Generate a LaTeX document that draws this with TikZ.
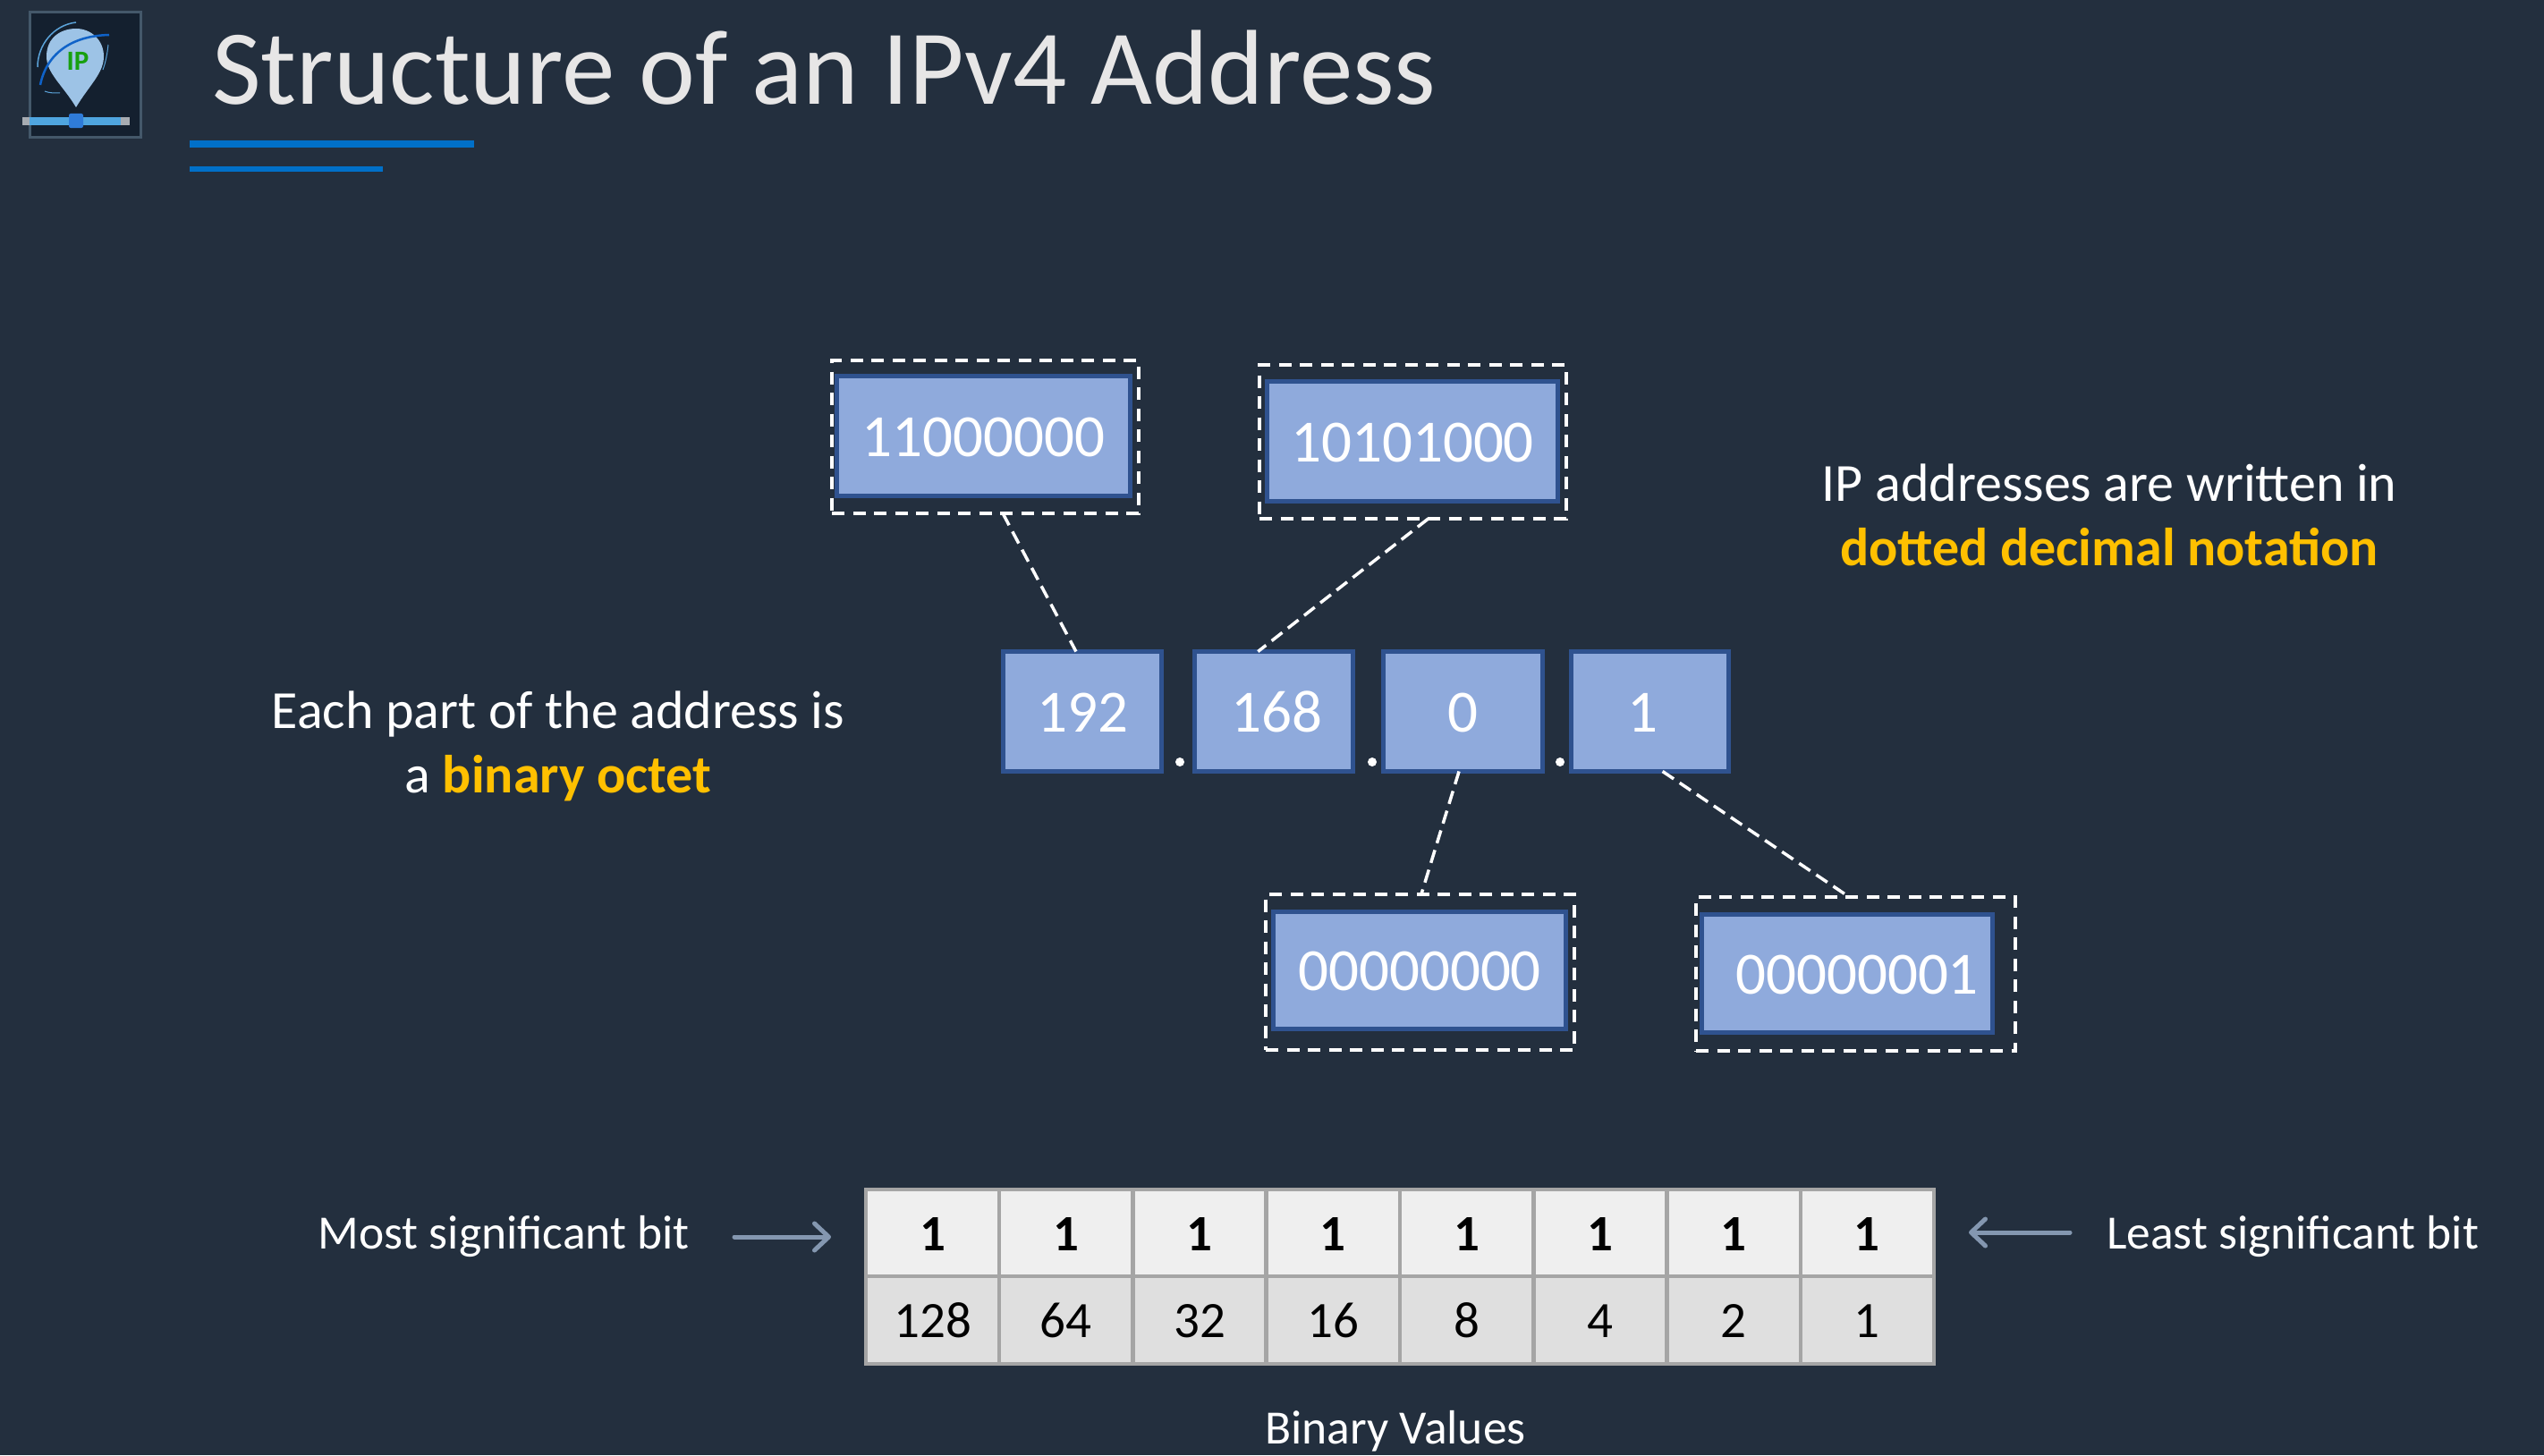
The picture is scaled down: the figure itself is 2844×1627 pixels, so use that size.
\documentclass[tikz,border=0pt]{standalone}
\usepackage{fontspec}
\setmainfont{Carlito}
\usetikzlibrary{calc,arrows.meta}
\definecolor{bg}{HTML}{232F3E}
\definecolor{boxfill}{HTML}{8FAADC}
\definecolor{boxline}{HTML}{2F528F}
\definecolor{accent}{HTML}{FFC000}
\definecolor{titlecol}{HTML}{E7E6E6}
\definecolor{rule}{HTML}{0070C8}
\definecolor{grid}{HTML}{A5A5A5}
\definecolor{rowa}{HTML}{EFEFEF}
\definecolor{rowb}{HTML}{DFDFDF}
\definecolor{arrowcol}{HTML}{8497B0}
\definecolor{logobg}{HTML}{14202F}
\definecolor{logoedge}{HTML}{44586A}
\definecolor{pin}{HTML}{9DC3E6}
\definecolor{slider}{HTML}{4FA5DF}
\definecolor{knob}{HTML}{2F7BD8}
\definecolor{arcdark}{HTML}{0F62C8}
\definecolor{arclight}{HTML}{5BA3D9}
\definecolor{ipgreen}{HTML}{17A00F}
\newcommand\fsz[1]{\fontsize{#1}{#1}\selectfont}
\tikzset{
  numbox/.style={draw=boxline,fill=boxfill,line width=5pt,inner sep=0pt,outer sep=0pt,
    text=white,font=\fsz{67},text height=45pt,text depth=0pt,align=center},
  dashframe/.style={draw=white,line width=4.5pt,dash pattern=on 14pt off 9.5pt,inner sep=0pt,outer sep=0pt},
  dashlink/.style={draw=white,line width=3.5pt,dash pattern=on 15pt off 8pt},
  dotmark/.style={circle,fill=white,minimum size=10pt,inner sep=0pt},
  txt/.style={anchor=base,text=white,font=\fsz{60},inner sep=0pt},
  txtsmall/.style={txt,font=\fsz{53.5}},
  cella/.style={draw=grid,fill=rowa,line width=4.5pt,minimum width=149.25pt,minimum height=97pt,inner sep=0pt,outer sep=0pt,
    text=black,font=\fsz{57}\bfseries,text height=40pt,text depth=0pt},
  cellb/.style={draw=grid,fill=rowb,line width=4.5pt,minimum width=149.25pt,minimum height=98pt,inner sep=0pt,outer sep=0pt,
    text=black,font=\fsz{57},text height=39pt,text depth=0pt},
  sidearrow/.style={draw=arrowcol,line width=5pt,line cap=round,
    -{Straight Barb[length=16pt,width=30pt,line width=5pt,round]}},
}
\begin{document}
\begin{tikzpicture}[x=1pt,y=-1pt]
\useasboundingbox[fill=bg] (0,0) rectangle (2844,1627);

% logo
\fill[fill=rule] (212,157) rectangle (530,165);
\fill[fill=rule] (212,186) rectangle (428,192);
\draw[draw=logoedge,line width=3pt,fill=logobg] (33,14) rectangle (157,153);
\fill[fill=white!60!bg] (25,131) rectangle (145,140);
\fill[fill=slider] (33,131) rectangle (135,140);
\fill[fill=knob,rounded corners=2pt] (77,127) rectangle (93,143);
\fill[fill=pin] (85,120) .. controls (70,95) and (52,82) .. (52,63)
  .. controls (52,42) and (68,32) .. (85,32) .. controls (102,32) and (116,45) .. (116,63)
  .. controls (116,82) and (100,95) .. (85,120) -- cycle;
\draw[draw=arcdark,line width=2.5pt] (45,95) .. controls (52,60) and (80,40) .. (122,39);
\draw[draw=arclight,line width=1.5pt] (42,75) .. controls (42,50) and (60,28) .. (85,25);
\draw[draw=arclight,line width=1pt] (121,50) .. controls (120,60) and (118,70) .. (115,78);
\draw[draw=arclight,line width=1pt] (50,102) .. controls (55,104) and (60,104) .. (67,104);
\node[anchor=base,inner sep=0pt,text=ipgreen,font=\fsz{31}\bfseries] (iplogo) at (87,79) {IP};

% title
\node[anchor=base west,inner sep=0pt,text=titlecol,font=\fsz{119}] (title) at (237,117) {Structure of an IPv4 Address};

% dashed frames
\node[dashframe,minimum width=343pt,minimum height=171pt] (d1) at (1101.5,488.5) {};
\node[dashframe,minimum width=343pt,minimum height=172pt] (d2) at (1579.5,494) {};
\node[dashframe,minimum width=345pt,minimum height=174pt] (d3) at (1587.5,1087) {};
\node[dashframe,minimum width=357pt,minimum height=172pt] (d4) at (2074.5,1089) {};

% binary boxes
\node[numbox,minimum width=328pt,minimum height=134pt] (b1) at (1099.5,487.5) {11000000};
\node[numbox,minimum width=325pt,minimum height=134pt] (b2) at (1579,493.5) {10101000};
\node[numbox,minimum width=327pt,minimum height=131pt] (b3) at (1587,1085) {00000000};
\node[numbox,minimum width=325pt,minimum height=132pt] (b4) at (2065,1088.5) {\hspace*{22pt}00000001};

% decimal boxes
\node[numbox,minimum width=177pt,minimum height=134pt] (n192) at (1210,795.5) {192};
\node[numbox,minimum width=177pt,minimum height=134pt] (n168) at (1424,795.5) {\hspace*{6pt}168};
\node[numbox,minimum width=178pt,minimum height=134pt] (n0) at (1635.5,795.5) {0};
\node[numbox,minimum width=176pt,minimum height=134pt] (n1) at (1844,795.5) {\hspace*{-16pt}1};

\node[dotmark] (p1) at (1319,852) {};
\node[dotmark] (p2) at (1534,852) {};
\node[dotmark] (p3) at (1744,852) {};

% links
\draw[dashlink] ($(d1.south west)!0.557!(d1.south east)$) -- ($(n192.north west)!0.46!(n192.north east)$);
\draw[dashlink] ($(d2.south west)!0.55!(d2.south east)$) -- ($(n168.north west)!0.40!(n168.north east)$);
\draw[dashlink] ($(n0.south west)!0.475!(n0.south east)$) -- ($(d3.north west)!0.504!(d3.north east)$);
\draw[dashlink] ($(n1.south west)!0.583!(n1.south east)$) -- ($(d4.north west)!0.48!(d4.north east)$);

% side texts
\node[txt] (tl1) at (624,814) {Each part of the address is};
\node[txt] (tl2) at (624,886.5) {a \textcolor{accent}{\bfseries binary octet}};
\node[txt] (tr1) at (2358,560) {IP addresses are written in};
\node[txt] (tr2) at (2358,632.5) {\textcolor{accent}{\bfseries dotted decimal notation}};

% table
\foreach \i/\v [count=\c from 0] in {1/128,2/64,3/32,4/16,5/8,6/4,7/2,8/1} {
  \node[cella] (ta\i) at ({1042.6+149.25*\c},1378.5) {1};
  \node[cellb] (tb\i) at ({1042.6+149.25*\c},1476) {\v};
}
\node[txtsmall,anchor=base east] (msb) at (771,1396.5) {Most significant bit};
\node[txtsmall,anchor=base west] (lsb) at (2355,1396.5) {Least significant bit};
\node[txtsmall] (bv) at (1560,1614.5) {Binary Values};
\coordinate (ma) at (821,1383);
\coordinate (mb) at (929,1383);
\coordinate (la) at (2314,1378);
\coordinate (lb) at (2201,1378);
\draw[sidearrow] (ma) -- (mb);
\draw[sidearrow] (la) -- (lb);
\end{tikzpicture}
\end{document}
